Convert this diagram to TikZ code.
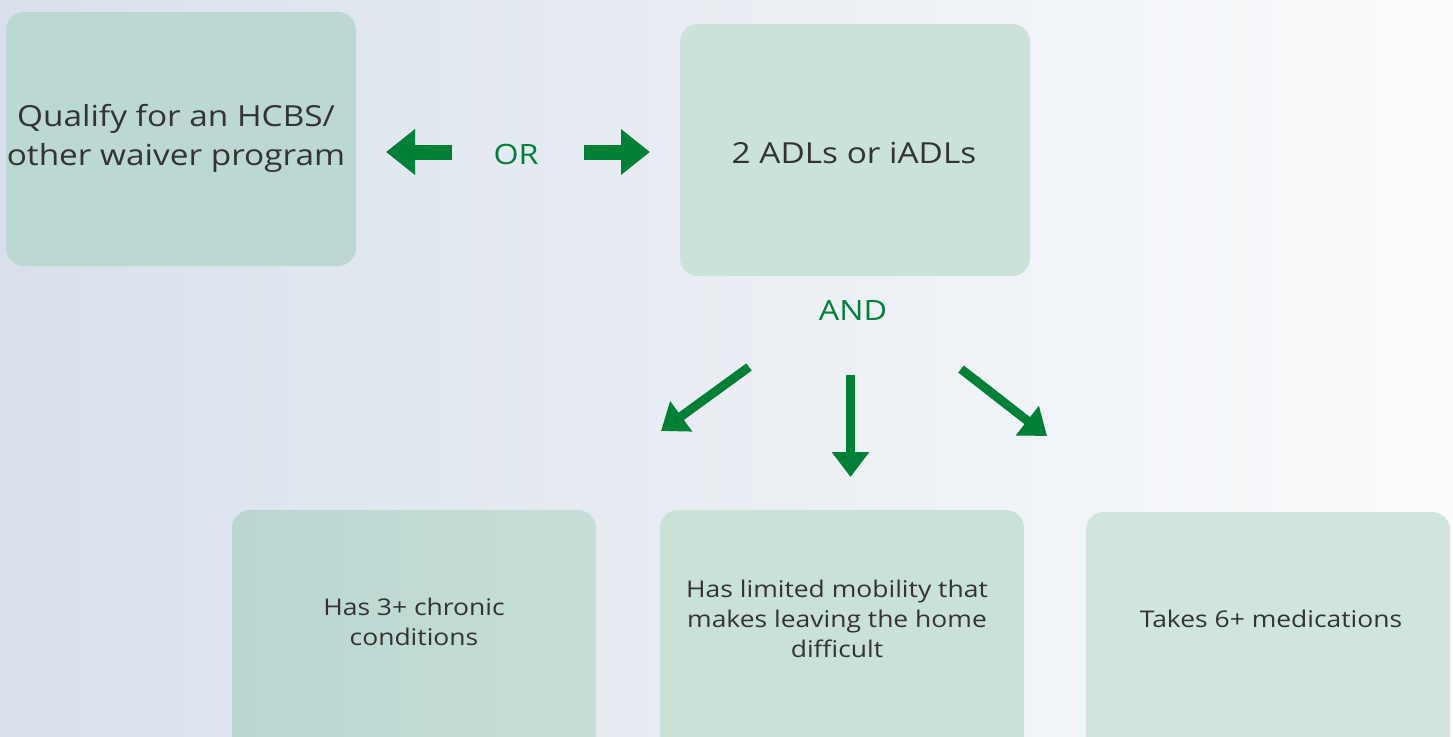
\documentclass[tikz,border=0pt]{standalone}
\usepackage{fontspec}
\setmainfont[FakeStretch=1.15]{Open Sans}
\usetikzlibrary{arrows.meta}
\definecolor{arrowgreen}{HTML}{007F36}
\definecolor{textdark}{HTML}{333333}
\definecolor{bgL}{HTML}{D8E0EA}
\definecolor{bgR}{HTML}{FBFCFD}
\definecolor{boxA}{HTML}{BCD8D3}
\definecolor{boxB}{HTML}{CBE2D9}
\definecolor{boxCL}{HTML}{BAD6D1}
\definecolor{boxCR}{HTML}{C6DED7}
\definecolor{boxD}{HTML}{CAE1D8}
\definecolor{boxE}{HTML}{D0E6DD}
\begin{document}
\begin{tikzpicture}[x=1pt,y=-1pt,
  box/.style={rounded corners=18pt, inner sep=0pt, draw=none},
  bigtxt/.style={font=\fontsize{29}{39}\selectfont, text=textdark, align=center, inner sep=0pt},
  smalltxt/.style={font=\fontsize{23}{30}\selectfont, text=textdark, align=center, inner sep=0pt},
  lbl/.style={font=\fontsize{28}{28}\selectfont, text=arrowgreen, inner sep=0pt},
  fatarrow/.style={draw=arrowgreen, line width=15pt, -{Triangle[width=44pt,length=29pt]}},
  thinarrow/.style={draw=arrowgreen, line width=9pt, -{Triangle[width=36pt,length=25pt]}}]
\useasboundingbox (0,0) rectangle (1453,736);
\clip (0,0) rectangle (1453,736);
\shade[left color=bgL, right color=bgR] (0,0) rectangle (1453,736);

% boxes
\node[box, fill=boxA, minimum width=350pt, minimum height=254pt] (qual) at (181,139) {};
\node[box, fill=boxB, minimum width=350pt, minimum height=252pt] (adl) at (855,150) {};
\node[box, left color=boxCL, right color=boxCR, minimum width=364pt, minimum height=270pt] (chronic) at (414,645) {};
\node[box, fill=boxD, minimum width=364pt, minimum height=270pt] (mobility) at (842,645) {};
\node[box, fill=boxE, minimum width=364pt, minimum height=270pt] (meds) at (1268,647) {};

% texts
\node[bigtxt] (qualtxt) at (176,138) {Qualify for an HCBS/\\other waiver program};
\node[bigtxt] (adltxt) at (854,153) {2 ADLs or iADLs};
\node[smalltxt] (chronictxt) at (414,622) {Has 3+ chronic\\conditions};
\node[smalltxt] (mobilitytxt) at (837,619) {Has limited mobility that\\makes leaving the home\\difficult};
\node[smalltxt] (medstxt) at (1271,619) {Takes 6+ medications};

% labels
\node[lbl] (or) at (516,154) {OR};
\node[lbl] (and) at (853,310) {AND};

% arrow coordinates
\coordinate (l1) at (452,152);
\coordinate (l2) at (386,152);
\coordinate (r1) at (584,152);
\coordinate (r2) at (650,152);
\coordinate (d1s) at (749,367);
\coordinate (d1e) at (661,431);
\coordinate (d2s) at (850.5,375);
\coordinate (d2e) at (850.5,477);
\coordinate (d3s) at (961,369);
\coordinate (d3e) at (1047,436);

\draw[fatarrow] (l1) -- (l2);
\draw[fatarrow] (r1) -- (r2);
\draw[thinarrow] (d1s) -- (d1e);
\draw[thinarrow] (d2s) -- (d2e);
\draw[thinarrow] (d3s) -- (d3e);
\end{tikzpicture}
\end{document}
